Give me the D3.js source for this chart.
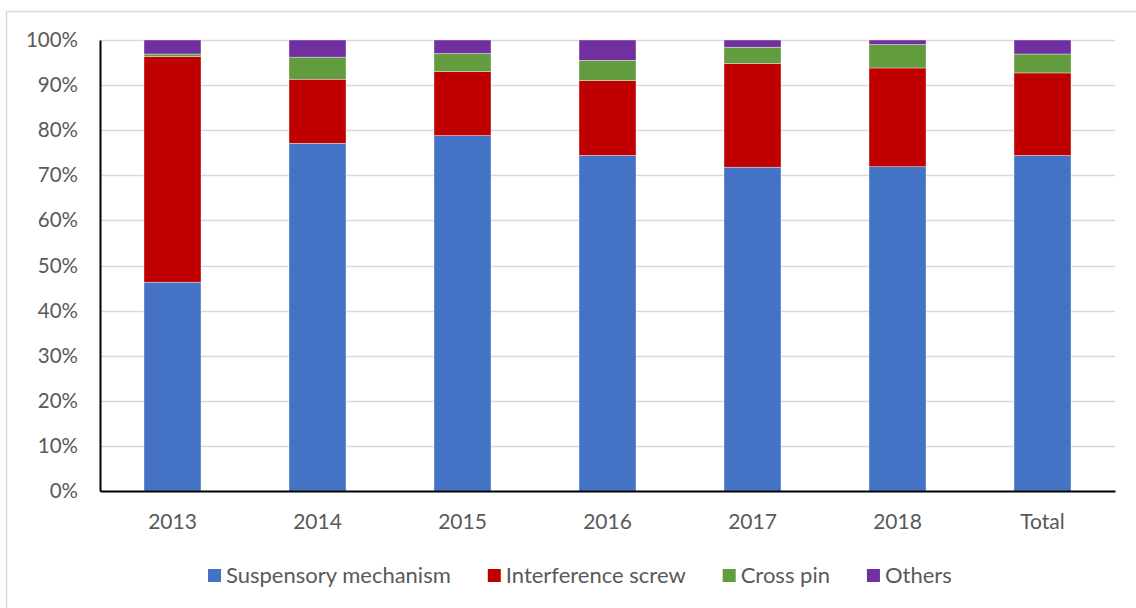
<!DOCTYPE html>
<html>
<head>
<meta charset="utf-8">
<script src="https://cdn.jsdelivr.net/npm/d3@7"></script>
<style>
  html, body { margin: 0; padding: 0; background: #fff; }
  #canvas { width: 1136px; height: 608px; }
  text { font-family: Lato, "Open Sans", sans-serif; fill: #595959; }
</style>
</head>
<body>
<div id="canvas" class="canvas"></div>
<script>
// data (percent of each year)
var categories = ['2013', '2014', '2015', '2016', '2017', '2018', 'Total'];
var seriesNames = ['Suspensory mechanism', 'Interference screw', 'Cross pin', 'Others'];
var suspensory   = [46.3, 77.1, 78.8, 74.4, 71.8, 71.9, 74.4];
var interference = [50.0, 14.2, 14.2, 16.6, 23.0, 21.9, 18.3];
var crossPin     = [0.6, 4.9, 4.0, 4.5, 3.6, 5.2, 4.2];
var others       = [3.1, 3.8, 3.0, 4.5, 1.6, 1.0, 3.1];
var yTicks = [0, 10, 20, 30, 40, 50, 60, 70, 80, 90, 100];

var colors = ['#4472c4', '#c00000', '#639b3f', '#7030a0'];

var outerWidth = 1136, outerHeight = 608;
var m = {t: 40, r: 21, b: 117, l: 100};
var w = outerWidth - m.l - m.r,
    h = outerHeight - m.t - m.b;

var svg = d3.select('.canvas')
    .append('svg')
    .attr('width', outerWidth)
    .attr('height', outerHeight);

// chart frame (only left/top visible in the crop)
svg.append('rect')
    .attr('x', 6.5).attr('y', 11.5)
    .attr('width', 1140).attr('height', 610)
    .style('fill', 'none')
    .style('stroke', '#d9d9d9')
    .style('stroke-width', '1.5px');

var plot = svg.append('g')
    .attr('transform', 'translate(' + m.l + ',' + m.t + ')');

// rows for the stack
var rows = categories.map(function(c, i) {
    return {
        cat: c,
        'Suspensory mechanism': suspensory[i],
        'Interference screw': interference[i],
        'Cross pin': crossPin[i],
        'Others': others[i]
    };
});

//Scale
var scaleX = d3.scaleBand()
    .domain(categories)
    .range([0, w])
    .paddingInner(0.607)
    .paddingOuter(0.3035);
var scaleY = d3.scaleLinear()
    .domain([0, 100])
    .range([h, 0]);
var scaleColor = d3.scaleOrdinal()
    .domain(seriesNames)
    .range(colors);

// gridlines
plot.selectAll('.grid')
    .data(yTicks.slice(1))
    .enter()
    .append('line')
    .attr('class', 'grid')
    .attr('x1', 0).attr('x2', w)
    .attr('y1', function(d){ return Math.round(scaleY(d)) + 0.5; })
    .attr('y2', function(d){ return Math.round(scaleY(d)) + 0.5; })
    .style('stroke', '#d9d9d9')
    .style('stroke-width', '1.5px');

// bars
var stacked = d3.stack().keys(seriesNames)(rows);
plot.selectAll('.series')
    .data(stacked)
    .enter()
    .append('g')
    .attr('class', 'series')
    .style('fill', function(d){ return scaleColor(d.key); })
    .selectAll('rect')
    .data(function(d){ return d; })
    .enter()
    .append('rect')
    .attr('x', function(d){ return scaleX(d.data.cat); })
    .attr('width', scaleX.bandwidth())
    .attr('y', function(d){ return scaleY(d[1]); })
    .attr('height', function(d){ return scaleY(d[0]) - scaleY(d[1]); })
    .style('stroke', '#ffffff')
    .style('stroke-width', '0.6px')
    .style('stroke-opacity', 0.6);

//Axis
var axisX = d3.axisBottom()
    .scale(scaleX)
    .tickSize(0)
    .tickPadding(23);
var axisY = d3.axisLeft()
    .scale(scaleY)
    .tickValues(yTicks)
    .tickSize(0)
    .tickPadding(22)
    .tickFormat(function(d){ return d + '%'; });

var gx = plot.append('g').attr('class', 'axis axis-x')
    .attr('transform', 'translate(0,' + h + ')')
    .call(axisX);
gx.select('.domain').style('stroke', '#000').style('stroke-width', '2px');
gx.selectAll('text').style('font-size', '21px').style('fill', '#595959');

var gy = plot.append('g').attr('class', 'axis axis-y')
    .call(axisY);
gy.select('.domain').style('stroke', '#000').style('stroke-width', '2px');
gy.selectAll('text').style('font-size', '20.5px').style('fill', '#595959');

// legend
var legend = svg.append('g').attr('class', 'legend')
    .attr('transform', 'translate(208,575)');
var lx = 0;
seriesNames.forEach(function(name) {
    var item = legend.append('g').attr('transform', 'translate(' + lx + ',0)');
    item.append('rect')
        .attr('x', 0).attr('y', -6)
        .attr('width', 13).attr('height', 13)
        .style('fill', scaleColor(name));
    var t = item.append('text')
        .attr('x', 18)
        .attr('dy', '0.35em')
        .style('font-size', '22px')
        .text(name);
    lx += 18 + t.node().getComputedTextLength() + 37;
});
</script>
</body>
</html>
